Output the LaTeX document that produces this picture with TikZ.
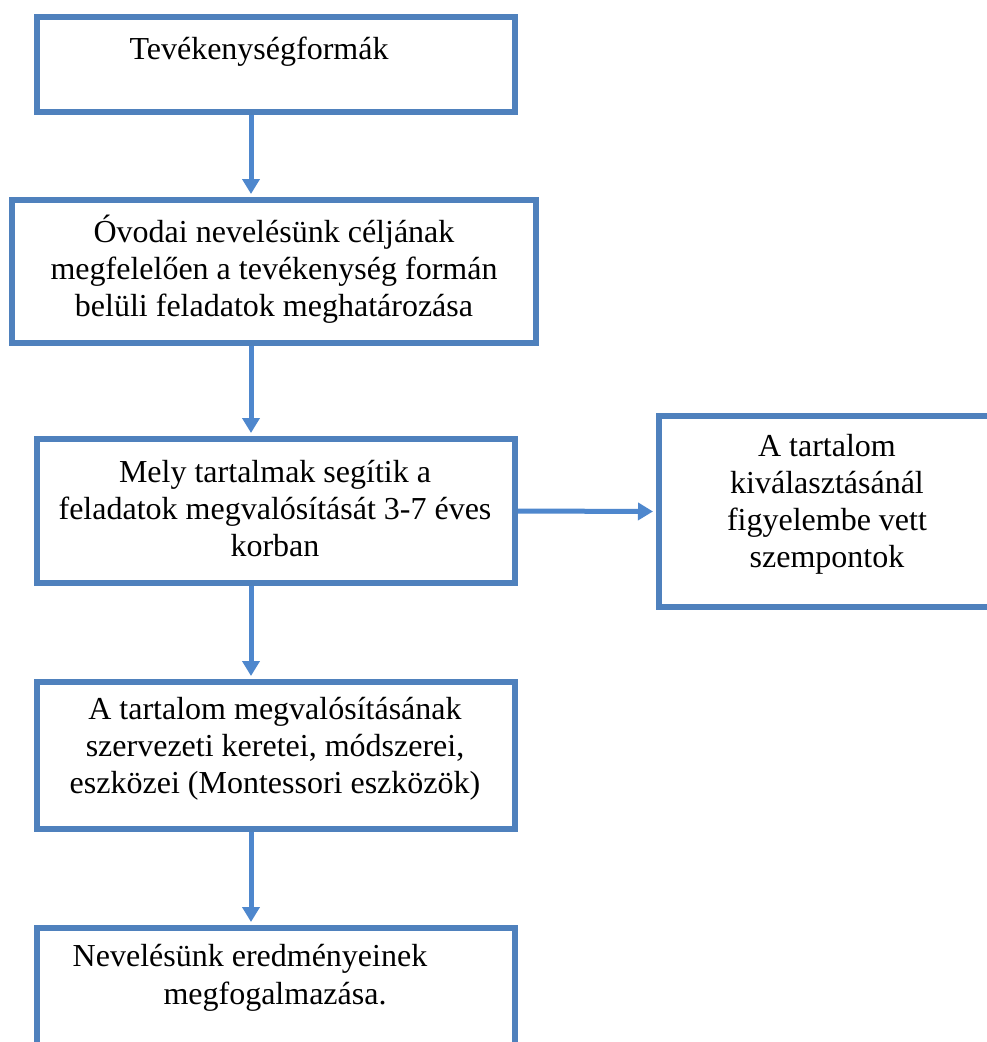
\documentclass[tikz,border=0pt]{standalone}
\usepackage{fontspec}
\setmainfont{Liberation Serif}
\usetikzlibrary{arrows.meta}
\definecolor{boxblue}{RGB}{79,129,189}
\definecolor{arrblue}{RGB}{78,135,205}
\begin{document}
\begin{tikzpicture}[x=1pt,y=-1pt,
  box/.style={draw=boxblue,line width=6pt,inner sep=0pt,fill=white},
  txt/.style={font=\fontsize{32}{37}\selectfont,align=center,inner sep=0pt},
  conn/.style={draw=arrblue,line width=5pt,-{Triangle[length=15pt,width=17pt]},shorten >=3pt}]
\clip (0,0) rectangle (987,1042);
\fill[white] (0,0) rectangle (987,1042);
\node[box,minimum width=478pt,minimum height=95pt] (b1) at (276,64.5) {};
\node[box,minimum width=524pt,minimum height=143pt] (b2) at (274,271.5) {};
\node[box,minimum width=478pt,minimum height=144pt] (b3) at (276,511) {};
\node[box,minimum width=478pt,minimum height=147pt] (b4) at (276,755.5) {};
\node[box,minimum width=478pt,minimum height=147pt] (b5) at (276,1001.5) {};
\node[box,minimum width=336pt,minimum height=191pt] (r) at (827,511.5) {};
\node[txt] (t1) at (259,52) {Tevékenységformák};
\node[txt] (t2) at (274,269) {Óvodai nevelésünk céljának\\megfelelően a tevékenység formán\\belüli feladatok meghatározása};
\node[txt] (t3) at (275,509) {Mely tartalmak segítik a\\feladatok megvalósítását 3-7 éves\\korban};
\node[txt] (t4) at (275,749) {A tartalom megvalósításának\\szervezeti keretei, módszerei,\\eszközei (Montessori eszközök)};
\node[txt] (t5a) at (250,959) {Nevelésünk eredményeinek};
\node[txt] (t5b) at (275,997) {megfogalmazása.};
\node[txt] (tr) at (827,504) {A tartalom\\kiválasztásánál\\figyelembe vett\\szempontok};
\coordinate (ax) at (251,0);
\draw[conn] (b1.south -| ax) -- (b2.north -| ax);
\draw[conn] (b2.south -| ax) -- (b3.north -| ax);
\draw[conn] (b3.south -| ax) -- (b4.north -| ax);
\draw[conn] (b4.south -| ax) -- (b5.north -| ax);
\draw[conn] (b3.east) -- (r.west);
\end{tikzpicture}
\end{document}
